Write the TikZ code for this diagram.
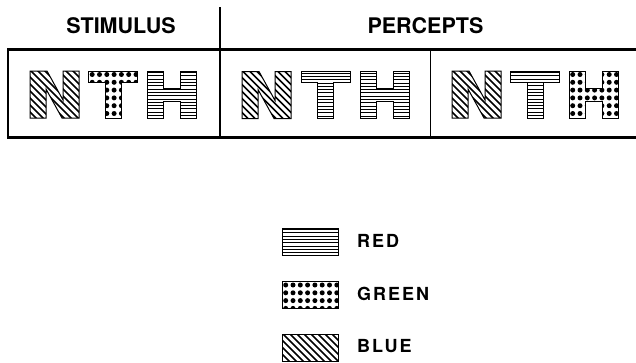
\documentclass[tikz,border=0pt]{standalone}
\usepackage{fontspec}
\setmainfont{TeX Gyre Heros}
\newfontfamily\legfont[LetterSpace=11]{TeX Gyre Heros}
\tikzset{
  frame/.style={line width=2.4pt, black},
  divider/.style={line width=1pt, black},
  outline/.style={line width=1pt, black, line join=miter},
  patline/.style={line width=0.85pt, black},
  diagline/.style={line width=1.45pt, black},
  header/.style={font=\fontsize{21.5}{24}\selectfont\bfseries, anchor=base, inner sep=0pt},
  legtext/.style={font=\legfont\fontsize{18}{21}\selectfont\bfseries, anchor=base west, inner sep=0pt}
}
% pattern bodies (local coordinates)
\newcommand\patred{\foreach \yy in {1.6,4.9,...,52} {\draw[patline] (-2,\yy) -- (62,\yy);}}
\newcommand\patblue{\foreach \cc in {-64,-57,...,62} {\draw[diagline] (\cc,-2) -- ++(56,56);}}
\newcommand\patgreen{%
  \foreach \xx in {3.7,11,...,60} {\foreach \yy in {3.5,11.3,...,52} {\fill (\xx,\yy) circle (2.5);}}}
% letters
\newcommand\letN[1]{%
  \begin{scope}\clip (0,47) -- (0,0) -- (17,0) -- (33,29) -- (33,0) -- (49,0) -- (49,47) -- (32,47) -- (16,18) -- (16,47) -- cycle; #1\end{scope}
  \draw[outline] (0,47) -- (0,0) -- (17,0) -- (33,29) -- (33,0) -- (49,0) -- (49,47) -- (32,47) -- (16,18) -- (16,47) -- cycle;}
\newcommand\letT[1]{%
  \begin{scope}\clip (0,0) -- (49,0) -- (49,11) -- (32.5,11) -- (32.5,47) -- (16.5,47) -- (16.5,11) -- (0,11) -- cycle; #1\end{scope}
  \draw[outline] (0,0) -- (49,0) -- (49,11) -- (32.5,11) -- (32.5,47) -- (16.5,47) -- (16.5,11) -- (0,11) -- cycle;}
\newcommand\letH[1]{%
  \begin{scope}\clip (0,0) -- (16,0) -- (16,17) -- (33,17) -- (33,0) -- (49,0) -- (49,47) -- (33,47) -- (33,30) -- (16,30) -- (16,47) -- (0,47) -- cycle; #1\end{scope}
  \draw[outline] (0,0) -- (16,0) -- (16,17) -- (33,17) -- (33,0) -- (49,0) -- (49,47) -- (33,47) -- (33,30) -- (16,30) -- (16,47) -- (0,47) -- cycle;}
\newcommand\legbox[1]{%
  \begin{scope}\clip (0,0) rectangle (56,27); #1\end{scope}
  \draw[outline] (0,0) rectangle (56,27);}
\begin{document}
\begin{tikzpicture}[x=1pt,y=-1pt]
\useasboundingbox (0,0) rectangle (636,362);
\fill[white] (0,0) rectangle (636,362);
% headers
\node[header] (stim) at (121,33) {STIMULUS};
\node[header] (perc) at (425.5,33) {PERCEPTS};
% frame
\draw[frame] (8,49.5) rectangle (660,137.5);
\draw[line width=2pt] (219.5,7) -- (219.5,137.5);
\draw[divider] (430,49.5) -- (430,137.5);
% stimulus letters
\begin{scope}[shift={(30,71)}]\letN{\patblue}\end{scope}
\begin{scope}[shift={(88.5,71)}]\letT{\patgreen}\end{scope}
\begin{scope}[shift={(147,71)}]\letH{\patred}\end{scope}
% percept 1
\begin{scope}[shift={(242,71.5)}]\letN{\patblue}\end{scope}
\begin{scope}[shift={(301,71.5)}]\letT{\patred}\end{scope}
\begin{scope}[shift={(360,71.5)}]\letH{\patred}\end{scope}
% percept 2
\begin{scope}[shift={(452,71)}]\letN{\patblue}\end{scope}
\begin{scope}[shift={(510.5,71)}]\letT{\patred}\end{scope}
\begin{scope}[shift={(569,71)}]\letH{\patgreen}\end{scope}
% legend
\begin{scope}[shift={(282,228)}]\legbox{\patred}\end{scope}
\begin{scope}[shift={(282,281.5)}]\legbox{\patgreen}\end{scope}
\begin{scope}[shift={(282,334)}]\legbox{\patblue}\end{scope}
\node[legtext] (lred) at (357,247) {RED};
\node[legtext] (lgreen) at (357,300.5) {GREEN};
\node[legtext] (lblue) at (357,352) {BLUE};
\end{tikzpicture}
\end{document}
